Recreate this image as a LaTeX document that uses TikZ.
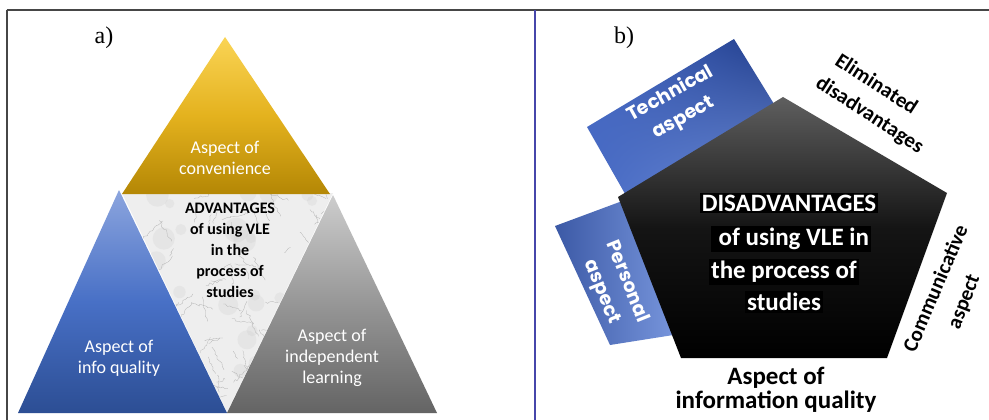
\documentclass[tikz,border=0pt]{standalone}
\usepackage{fontspec}
\setmainfont{Liberation Serif}
\newfontfamily\calib{Carlito}
\newfontfamily\popp{Poppins}
\usetikzlibrary{decorations.pathmorphing,shadings}
\definecolor{frameline}{RGB}{70,70,70}
\definecolor{divline}{RGB}{70,70,170}
\definecolor{yeltop}{RGB}{250,212,85}
\definecolor{yelmid}{RGB}{228,178,30}
\definecolor{yelbot}{RGB}{180,135,5}
\definecolor{bluetop}{RGB}{140,165,222}
\definecolor{bluemid}{RGB}{72,112,198}
\definecolor{bluebot}{RGB}{44,78,148}
\definecolor{graytop}{RGB}{205,205,205}
\definecolor{graymid}{RGB}{150,150,150}
\definecolor{graybot}{RGB}{100,100,100}
\definecolor{marblebase}{RGB}{238,238,238}
\definecolor{vein}{RGB}{180,180,180}
\definecolor{blotch}{RGB}{205,205,205}
\definecolor{rectdark}{RGB}{30,58,135}
\definecolor{rectmid}{RGB}{70,105,195}
\definecolor{rectlight}{RGB}{125,155,225}
\definecolor{pentop}{RGB}{95,95,95}
\begin{document}
\begin{tikzpicture}[x=1pt,y=-1pt,
  lbl/.style={font=\fontsize{24}{28}\selectfont, inner sep=0pt},
  wtxt/.style={text=white, align=center, font=\calib\fontsize{18}{21}\selectfont, inner sep=0pt},
  advtxt/.style={align=center, font=\calib\bfseries\fontsize{16}{21}\selectfont, inner sep=0pt},
  btxt/.style={font=\calib\bfseries\fontsize{21}{24}\selectfont, inner sep=0pt, align=center},
  rtxt/.style={text=white, font=\popp\bfseries\fontsize{19}{27}\selectfont, align=center, inner sep=0pt},
  distxt/.style={text=white, fill=black, font=\calib\bfseries\fontsize{25}{28}\selectfont, inner sep=2pt},
  veinline/.style={vein, line width=0.3pt, decorate, decoration={random steps, segment length=2.5pt, amplitude=1.4pt}}
]
\useasboundingbox (0,0) rectangle (989,420);
\fill[white] (0,0) rectangle (989,420);

% frame
\draw[frameline, line width=1.6pt] (6.5,10) -- (989,10);
\draw[frameline, line width=1.6pt] (7,10) -- (7,420);
\draw[divline, line width=1.6pt] (535,10) -- (535,420);

% ---------- panel a ----------
\node[lbl] (la) at (104,38) {a)};

% marble inverted triangle
\begin{scope}
  \clip (122,193) -- (333,193) -- (227,412) -- cycle;
  \fill[marblebase] (110,185) rectangle (345,420);
  \pgfmathsetseed{11}
  \foreach \i in {1,...,45} {
    \pgfmathsetmacro\xa{110+rnd*230}
    \pgfmathsetmacro\ya{185+rnd*230}
    \pgfmathsetmacro\rr{4+rnd*9}
    \fill[blotch, opacity=0.25] (\xa,\ya) circle[radius=\rr];
  }
  \foreach \i in {1,...,110} {
    \pgfmathsetmacro\xa{110+rnd*230}
    \pgfmathsetmacro\ya{185+rnd*230}
    \pgfmathsetmacro\ang{rnd*360}
    \pgfmathsetmacro\len{8+rnd*22}
    \draw[veinline] (\xa,\ya) -- ++(\ang:\len);
  }
\end{scope}

% yellow triangle
\shade[top color=yeltop, bottom color=yelbot, middle color=yelmid] (225,37) -- (330,194) -- (122,194) -- cycle;
% blue triangle
\shade[top color=bluetop, bottom color=bluebot, middle color=bluemid] (119,190) -- (227,413) -- (18,413) -- cycle;
% gray triangle
\shade[top color=graytop, bottom color=graybot, middle color=graymid] (333,195) -- (437,413) -- (227,413) -- cycle;

\node[wtxt] (conv) at (225,158) {Aspect of\\convenience};
\node[advtxt] (adv) at (230,250) {ADVANTAGES\\of using VLE\\in the\\process of\\studies};
\node[wtxt] (info) at (119,358) {Aspect of\\info quality};
\node[wtxt] (indep) at (332,358) {Aspect of\\independent\\learning};

% ---------- panel b ----------
\node[lbl] (lb) at (624,38) {b)};

% technical aspect rectangle
\shade[upper left=rectmid, upper right=rectdark, lower left=rectmid, lower right=rectlight]
  (587,127) -- (734,39) -- (790,130) -- (632,206) -- cycle;
% personal aspect rectangle
\shade[left color=rectmid!85!black, right color=rectlight]
  (555,226) -- (625,200) -- (686,333) -- (610,345) -- cycle;

% pentagon
\shade[top color=pentop, bottom color=black, middle color=black!92!white]
  (783,97) -- (947,193) -- (887,358) -- (681,358) -- (618,197) -- cycle;

\node[rtxt, rotate=29] (tech) at (677,106) {Technical\\aspect};
\node[rtxt, rotate=-68] (pers) at (614,287) {Personal\\aspect};

\node[btxt, rotate=-33, font=\calib\bfseries\fontsize{21}{29}\selectfont] (elim) at (874,101) {\hspace*{-14pt}Eliminated\\\hspace*{8pt}disadvantages};
\node[btxt, rotate=67] (comm) at (935,288) {Communicative};
\node[btxt, rotate=69] (commasp) at (965,302) {aspect};
\node[btxt, font=\calib\bfseries\fontsize{25}{24}\selectfont] (infq) at (776,390) {Aspect of\\information quality};

\node[distxt] (d1) at (789,203) {DISADVANTAGES};
\node[distxt] (d2) at (791,239) {~of using VLE in};
\node[distxt] (d3) at (784,272) {the process of};
\node[distxt] (d4) at (784,302) {studies};
\end{tikzpicture}
\end{document}
